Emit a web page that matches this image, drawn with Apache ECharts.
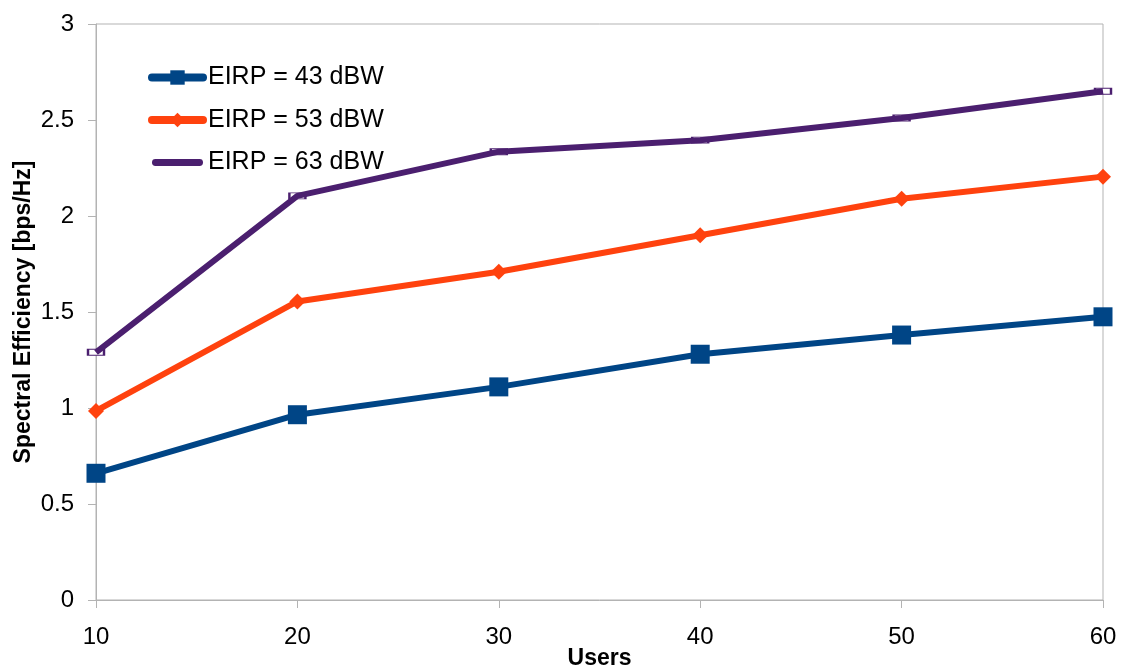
<!DOCTYPE html>
<html><head><meta charset="utf-8">
<script src="https://cdn.jsdelivr.net/npm/echarts@6/dist/echarts.min.js"></script>
<style>html,body{margin:0;padding:0;background:#fff}#c{width:1127px;height:666px}</style>
</head><body><div id="c"></div>
<script>
const users = [10, 20, 30, 40, 50, 60];
const eirp43 = [0.66, 0.965, 1.11, 1.28, 1.38, 1.475];
const eirp53 = [0.985, 1.555, 1.71, 1.90, 2.09, 2.205];
const eirp63 = [1.29, 2.105, 2.335, 2.395, 2.51, 2.65];
const seriesNames = ['EIRP = 43 dBW', 'EIRP = 53 dBW', 'EIRP = 63 dBW'];
const colors = ['#004586', '#ff420e', '#4b1f6f'];

const pair = (ys) => users.map((x, i) => [x, ys[i]]);
const font = 'Liberation Sans, Arial, sans-serif';
const barIcon = 'path://M4,0 H55 A4,4 0 0 1 55,8 H4 A4,4 0 0 1 4,0 Z';
const chart = echarts.init(document.getElementById('c'), null, {renderer: 'canvas'});
chart.setOption({
  animation: false,
  textStyle: {fontFamily: font},
  grid: {left: 96, right: 24, top: 24, bottom: 66, show: true, borderColor: '#b3b3b3', borderWidth: 1,
         containLabel: false, outerBoundsMode: 'none'},
  legend: {
    left: 143, top: 60, orient: 'vertical', itemWidth: 51, itemHeight: 18, itemGap: 17.5,
    textStyle: {fontSize: 25, color: '#000', fontFamily: font},
    lineStyle: {width: 8, cap: 'round'},
    data: [
      {name: seriesNames[0]},
      {name: seriesNames[1]},
      {name: seriesNames[2], icon: barIcon, itemStyle: {color: colors[2]}}
    ]
  },
  xAxis: {
    type: 'value', min: 10, max: 60, interval: 10,
    name: 'Users', nameLocation: 'middle', nameGap: 47, nameMoveOverlap: false,
    nameTextStyle: {fontSize: 23, fontWeight: 'bold', color: '#000'},
    axisLine: {show: true, lineStyle: {color: '#b3b3b3', width: 1}},
    axisTick: {show: true, length: 8, lineStyle: {color: '#b3b3b3'}},
    axisLabel: {fontSize: 24, color: '#000', margin: 25},
    splitLine: {show: false}
  },
  yAxis: {
    type: 'value', min: 0, max: 3, interval: 0.5,
    name: 'Spectral Efficiency [bps/Hz]', nameLocation: 'middle', nameGap: 61, nameMoveOverlap: false,
    nameTextStyle: {fontSize: 23, fontWeight: 'bold', color: '#000'},
    axisLine: {show: true, lineStyle: {color: '#b3b3b3', width: 1}},
    axisTick: {show: true, length: 8, lineStyle: {color: '#b3b3b3'}},
    axisLabel: {fontSize: 24, color: '#000', margin: 22},
    splitLine: {show: false}
  },
  series: [
    {name: seriesNames[0], type: 'line', data: pair(eirp43), color: colors[0], z: 3,
     lineStyle: {width: 6, color: colors[0]}, symbol: 'rect', symbolSize: 19,
     itemStyle: {color: colors[0]}},
    {name: seriesNames[1], type: 'line', data: pair(eirp53), color: colors[1], z: 3,
     lineStyle: {width: 6, color: colors[1]}, symbol: 'diamond', symbolSize: 16,
     itemStyle: {color: colors[1]}},
    {name: seriesNames[2], type: 'line', data: pair(eirp63), color: colors[2], z: 3,
     lineStyle: {width: 6, color: colors[2]}, showSymbol: false, symbol: 'none'},
    {name: seriesNames[2], type: 'line', data: pair(eirp63), color: colors[2], z: 2,
     lineStyle: {width: 0, opacity: 0}, symbol: 'rect', symbolSize: [16, 6],
     itemStyle: {color: '#ffffff', borderColor: colors[2], borderWidth: 1.5}}
  ]
});
</script></body></html>
